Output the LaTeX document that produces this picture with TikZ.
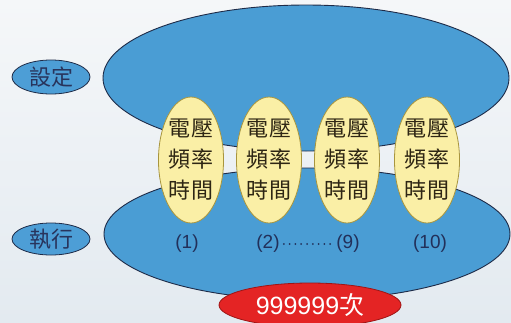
\documentclass[tikz,border=0pt]{standalone}
\usepackage{fontspec}
\usetikzlibrary{shapes.geometric}
\setmainfont{Liberation Sans}
\newfontfamily\cjk{Noto Sans CJK TC}
\definecolor{bgtop}{HTML}{F5F7F9}
\definecolor{bgbot}{HTML}{E3EAF0}
\definecolor{bigblue}{HTML}{4A9DD4}
\definecolor{edgenavy}{HTML}{1E2B48}
\definecolor{smallblue}{HTML}{4D9ED6}
\definecolor{navytext}{HTML}{28345C}
\definecolor{yelfill}{HTML}{FAEFA6}
\definecolor{yeledge}{HTML}{A8953E}
\definecolor{yeltext}{HTML}{2E2614}
\definecolor{redfill}{HTML}{E42424}
\definecolor{rededge}{HTML}{9E1414}
\definecolor{numtext}{HTML}{22305A}
\tikzset{
  bigell/.style={draw=edgenavy, line width=0.9pt, fill=bigblue},
  smallell/.style={ellipse, draw=edgenavy, line width=0.8pt, fill=smallblue,
    minimum width=78pt, minimum height=34pt, inner sep=0pt,
    text=navytext, font=\cjk\fontsize{22}{22}\selectfont},
  yelell/.style={ellipse, draw=yeledge, line width=0.8pt, fill=yelfill,
    minimum width=62pt, minimum height=126pt, inner sep=0pt, align=center,
    text=yeltext, font=\cjk\fontsize{22}{31}\selectfont},
  numlab/.style={text=numtext, font=\fontsize{19}{19}\selectfont, inner sep=1pt},
  redell/.style={ellipse, draw=rededge, line width=0.8pt, fill=redfill,
    minimum width=182pt, minimum height=44pt, inner sep=0pt,
    text=white, font=\fontsize{25}{25}\selectfont},
}
\begin{document}
\begin{tikzpicture}[x=1pt,y=-1pt]
\useasboundingbox (0,0) rectangle (511,322);
\shade[top color=bgtop, bottom color=bgbot] (0,0) rectangle (511,322);
% big ellipses
\draw[bigell] (306,78) ellipse [x radius=203, y radius=73];
\draw[bigell] (307,234) ellipse [x radius=203, y radius=66];
% left labels
\node[smallell] (set) at (51,77) {設定};
\node[smallell, minimum height=32pt] (run) at (51,239) {執行};
% yellow ellipses
\foreach \i/\x in {1/191,2/269,3/347,4/427}{
  \node[yelell] (y\i) at (\x,160) {電\hspace{2pt}壓\\頻\hspace{2pt}率\\時\hspace{2pt}間};
}
% numbers
\node[numlab] (n1) at (187,244) {(1)};
\node[numlab] (n2) at (268,244) {(2)};
\node[numlab] (n9) at (348,244) {(9)};
\node[numlab] (n10) at (430,244) {(10)};
\draw[numtext, line width=2pt, line cap=round, dash pattern=on 0pt off 5.8pt] ([xshift=3pt]n2.east) -- ([xshift=-2pt]n9.west);
% red ellipse
\node[redell] (cnt) at (310,305) {999999{\cjk 次}};
\end{tikzpicture}
\end{document}
